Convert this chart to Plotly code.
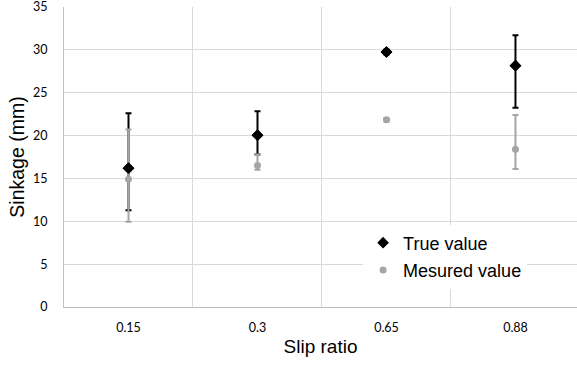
import plotly.graph_objects as go

categories = ["0.15", "0.3", "0.65", "0.88"]
true_values = [16.2, 20.05, 29.75, 28.15]
true_err_plus = [6.4, 2.8, 0.3, 3.55]
true_err_minus = [4.9, 2.25, 0.3, 4.9]
measured_values = [14.9, 16.5, 21.85, 18.4]
meas_err_plus = [5.8, 1.3, 0.2, 4.0]
meas_err_minus = [4.95, 0.5, 0.2, 2.3]
y_ticks = [0, 5, 10, 15, 20, 25, 30, 35]

BLACK = "#000000"
GRAY = "#a5a5a5"

fig = go.Figure()

fig.add_trace(go.Scatter(
    x=categories, y=true_values, mode="markers", name="True value",
    legendgroup="a",
    marker=dict(symbol="diamond", size=9, color=BLACK),
    error_y=dict(type="data", symmetric=False, array=true_err_plus,
                 arrayminus=true_err_minus, color=BLACK, thickness=2, width=3),
))
fig.add_trace(go.Scatter(
    x=categories, y=measured_values, mode="markers", name="Mesured value",
    legendgroup="b",
    marker=dict(symbol="circle", size=7, color=GRAY),
    error_y=dict(type="data", symmetric=False, array=meas_err_plus,
                 arrayminus=meas_err_minus, color=GRAY, thickness=2, width=3),
))
# redraw true markers on top of the measured error bars
fig.add_trace(go.Scatter(
    x=categories, y=true_values, mode="markers", showlegend=False, hoverinfo="skip",
    marker=dict(symbol="diamond", size=9, color=BLACK),
))

fig.update_layout(
    width=577, height=365,
    margin=dict(l=64, r=0, t=7, b=58, autoexpand=False),
    paper_bgcolor="white", plot_bgcolor="white",
    font=dict(family="Liberation Sans, Arial, sans-serif", color="#000000"),
    showlegend=True,
    legend=dict(
        x=0.583, y=0.275, xanchor="left", yanchor="top",
        bgcolor="white", borderwidth=0,
        font=dict(family="Liberation Sans, Arial, sans-serif", size=18, color="#000000"),
        itemwidth=30, traceorder="grouped", tracegroupgap=1,
    ),
    xaxis=dict(
        type="category", range=[-0.5, 3.477], automargin=False,
        tickson="boundaries", showgrid=True, gridcolor="#d9d9d9", gridwidth=1,
        ticks="", showline=True, linecolor="#bfbfbf", linewidth=1,
        ticklabelstandoff=9,
        tickfont=dict(family="Lato, Open Sans, sans-serif", size=12.5, color="#000000"),
        title=dict(text="Slip ratio", font=dict(size=19), standoff=5),
        zeroline=False,
    ),
    yaxis=dict(
        range=[0, 35.001], tickvals=y_ticks, automargin=False,
        showgrid=True, gridcolor="#d9d9d9", gridwidth=1,
        ticks="", showline=True, linecolor="#bfbfbf", linewidth=1,
        ticklabelstandoff=13, ticklabeloverflow="allow",
        tickfont=dict(family="Lato, Open Sans, sans-serif", size=12.5, color="#000000"),
        title=dict(text="Sinkage (mm)", font=dict(size=19.5), standoff=3),
        zeroline=False,
    ),
)

fig.write_html("out.html", config={"displayModeBar": False},
               post_script="document.body.style.margin='0';")
